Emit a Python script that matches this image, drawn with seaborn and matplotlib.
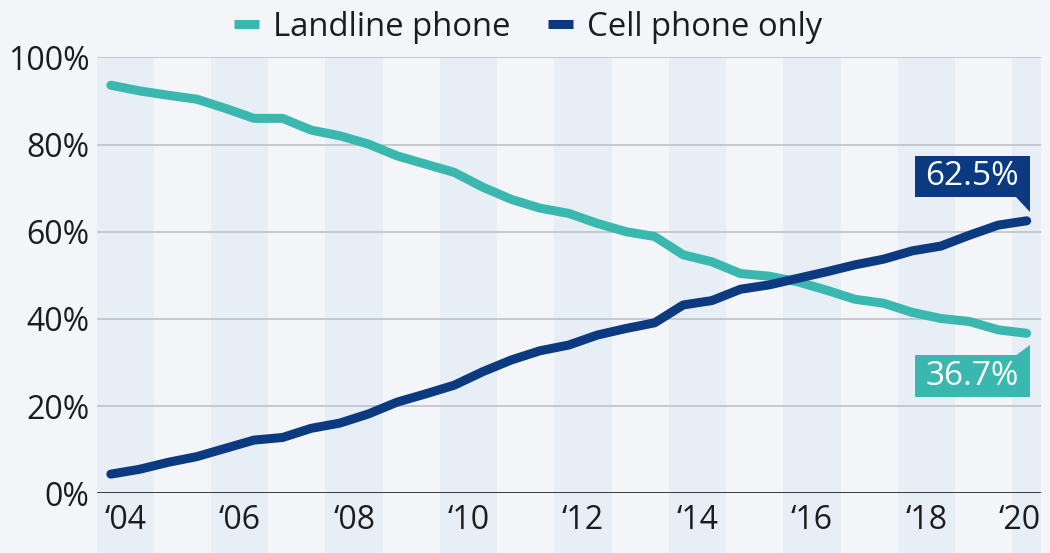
import numpy as np
import pandas as pd
import matplotlib
matplotlib.use("Agg")
import matplotlib.pyplot as plt
import matplotlib.transforms as mtransforms
from matplotlib.patches import Polygon, Rectangle
from matplotlib.lines import Line2D
import seaborn as sns

# ---------------- data (half-year periods, H1 2004 .. H1 2020) ----------------
periods = [f"{y} H{h}" for y in range(2004, 2021) for h in (1, 2)][:33]
landline = [93.6, 92.3, 91.3, 90.4, 88.3, 86.0, 86.0, 83.3,
            82.0, 80.1, 77.4, 75.5, 73.6, 70.2, 67.4, 65.4,
            64.2, 61.9, 60.0, 58.9, 54.7, 53.1, 50.4, 49.8,
            48.5, 46.6, 44.5, 43.6, 41.5, 40.1, 39.4, 37.5, 36.7]
cell_only = [4.4, 5.5, 7.1, 8.4, 10.3, 12.2, 12.8, 14.9,
             16.1, 18.2, 20.9, 22.8, 24.8, 27.9, 30.6, 32.7,
             34.0, 36.3, 37.8, 39.1, 43.2, 44.2, 46.8, 47.8,
             49.3, 50.8, 52.4, 53.7, 55.6, 56.7, 59.2, 61.5, 62.5]
series_names = ["Landline phone", "Cell phone only"]
tick_labels = ["\u201804", "\u201806", "\u201808", "\u201810", "\u201812",
               "\u201814", "\u201816", "\u201818", "\u201820"]
y_ticks = [0, 20, 40, 60, 80, 100]

TEAL = "#3ab8af"
NAVY = "#0b3a80"
BG = "#f3f5f9"
BAND = "#e8eef6"
TXT = "#1c1c1c"

sns.set_style("white")
plt.rcParams["font.family"] = ["Open Sans", "DejaVu Sans"]

n = len(periods)
df = pd.DataFrame({
    "idx": list(range(n)) * 2,
    "value": landline + cell_only,
    "series": [series_names[0]] * n + [series_names[1]] * n,
})

fig = plt.figure(figsize=(10.5, 5.53), dpi=100, facecolor=BG)
W, H = 1050, 553
left, right, top, bottom = 96.5, 1041, 57.3, 493.3
ax = fig.add_axes([left / W, (H - bottom) / H, (right - left) / W, (bottom - top) / H])
ax.set_facecolor(BG)

ax.set_xlim(-0.5, n - 0.5)
ax.set_ylim(0, 100)

# alternating year bands (even years shaded)
for j in range(0, 17, 2):
    ax.axvspan(2 * j - 0.5, min(2 * j + 1.5, n - 0.5), ymin=-0.2, ymax=1.0,
               color=BAND, lw=0, zorder=0, clip_on=False)

# grid
for yv in y_ticks[1:]:
    ax.axhline(yv, color="#c2c5ca", lw=1.3, zorder=1)
ax.axhline(0, color="#2a2a2a", lw=2, zorder=4)

sns.lineplot(data=df, x="idx", y="value", hue="series",
             palette={series_names[0]: TEAL, series_names[1]: NAVY},
             linewidth=6.5, legend=False, ax=ax, zorder=3)
for ln in ax.get_lines():
    ln.set_solid_capstyle("round")
    ln.set_solid_joinstyle("round")

for s in ax.spines.values():
    s.set_visible(False)

ax.set_xlabel("")
ax.set_ylabel("")
ax.set_yticks(y_ticks)
ax.set_yticklabels([f"{v}%" for v in y_ticks])
xt = [0.5 + 4 * k for k in range(8)] + [n - 0.5]
ax.set_xticks(xt)
ax.set_xticklabels(tick_labels)
ax.tick_params(axis="both", length=0, labelsize=23, colors=TXT)
ax.tick_params(axis="x", pad=8)
ax.tick_params(axis="y", pad=5)
ax.get_xticklabels()[-1].set_horizontalalignment("right")


def label_box(x, y, text, color, above):
    trans = mtransforms.Affine2D() + mtransforms.ScaledTranslation(x, y, ax.transData)
    if above:
        ax.add_patch(Rectangle((-112, 24), 115, 41, transform=trans, fc=color,
                               ec="none", clip_on=False, zorder=6))
        ax.add_patch(Polygon([(-12, 25), (3, 25), (3, 9)], closed=True, transform=trans,
                             fc=color, ec="none", clip_on=False, zorder=6))
        ty = 44.5
    else:
        ax.add_patch(Rectangle((-112, -64), 115, 42, transform=trans, fc=color,
                               ec="none", clip_on=False, zorder=6))
        ax.add_patch(Polygon([(-12, -23), (3, -23), (3, -12)], closed=True, transform=trans,
                             fc=color, ec="none", clip_on=False, zorder=6))
        ty = -43
    ax.text(-54.5, ty, text, transform=trans, ha="center", va="center",
            color="white", fontsize=24, zorder=7)


label_box(n - 1, cell_only[-1], f"{cell_only[-1]}%", NAVY, True)
label_box(n - 1, landline[-1], f"{landline[-1]}%", TEAL, False)

handles = [Line2D([0], [0], color=TEAL, lw=6.5, solid_capstyle="butt"),
           Line2D([0], [0], color=NAVY, lw=6.5, solid_capstyle="butt")]
leg = fig.legend(handles, series_names, loc="center", bbox_to_anchor=(0.503, 0.951),
                 ncol=2, frameon=False, handlelength=0.75, handletextpad=0.42,
                 columnspacing=1.15, fontsize=23.7)
for t in leg.get_texts():
    t.set_color(TXT)

fig.savefig("out.png", dpi=100, facecolor=BG)
